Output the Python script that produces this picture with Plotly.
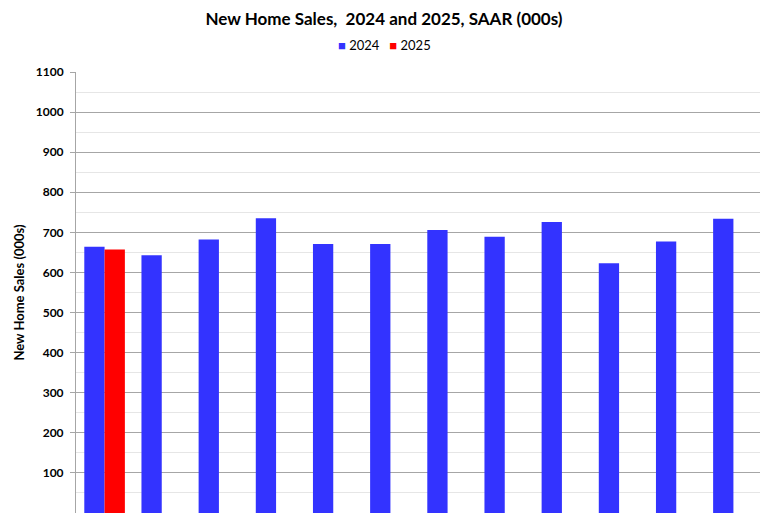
import plotly.graph_objects as go

months = ["Jan", "Feb", "Mar", "Apr", "May", "Jun", "Jul", "Aug", "Sep", "Oct", "Nov", "Dec"]
sales_2024 = [664, 643, 682, 735, 671, 671, 706, 689, 726, 623, 677, 734]
sales_2025 = [657, None, None, None, None, None, None, None, None, None, None, None]
series_names = ["2024", "2025"]
series_colors = ["#3333FF", "#FF0000"]

FONT = "Lato"
W, H = 760, 505  # page body adds an 8px margin

fig = go.Figure()
fig.add_trace(go.Bar(name=series_names[0], x=months, y=sales_2024,
                     marker_color=series_colors[0], marker_line_width=0))
fig.add_trace(go.Bar(name=series_names[1], x=months, y=sales_2025,
                     marker_color=series_colors[1], marker_line_width=0))

legend_text = "   ".join(
    f"<span style='color:{c}'>■</span> {n}" for n, c in zip(series_names, series_colors)
)

fig.update_layout(
    width=W, height=H,
    margin=dict(l=68, r=6, t=64, b=0, autoexpand=False),
    paper_bgcolor="white", plot_bgcolor="white",
    barmode="group", bargap=0.29, bargroupgap=0,
    font=dict(family=FONT, color="#000000"),
    title=dict(text="New Home Sales,  2024 and 2025, SAAR (000s)",
               x=376 / W, xref="container", xanchor="center",
               y=1 - 11 / H, yref="container", yanchor="middle", pad=dict(t=0, b=0),
               font=dict(family=FONT, size=17, weight="bold", color="#000000")),
    showlegend=False,
    annotations=[dict(text=legend_text, xref="paper", yref="paper",
                      x=(384 - 8 - 68) / (W - 74), y=1 + (64 - 37) / (H - 64),
                      xanchor="center", yanchor="middle", showarrow=False,
                      font=dict(family=FONT, size=13, color="#000000"))],
)
fig.update_xaxes(showgrid=False, showline=False, ticks="", showticklabels=False,
                 automargin=False)
fig.update_yaxes(range=[0, 1100], tickvals=list(range(0, 1101, 100)),
                 showgrid=True, gridcolor="#A6A6A6", gridwidth=1,
                 minor=dict(dtick=50, showgrid=True, gridcolor="#E6E6E6", gridwidth=1),
                 showline=True, linecolor="#A6A6A6", linewidth=1,
                 ticks="outside", ticklen=5, tickcolor="#A6A6A6",
                 ticklabelstandoff=4,
                 tickfont=dict(family=FONT, size=12, weight="bold", color="#000000"),
                 title=dict(text="New Home Sales (000s)",
                            font=dict(family=FONT, size=13, weight="bold"), standoff=8),
                 automargin=False, zeroline=False)

fig.write_html("out.html")
